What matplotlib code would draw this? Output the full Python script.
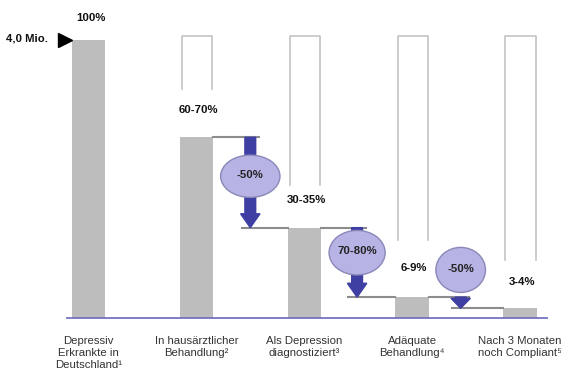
import matplotlib.pyplot as plt
from matplotlib.patches import Ellipse, FancyArrow

plt.rcParams['font.family'] = ['Liberation Sans', 'DejaVu Sans']

categories = ["Depressiv\nErkrankte in\nDeutschland¹",
              "In hausärztlicher\nBehandlung²",
              "Als Depression\ndiagnostiziert³",
              "Adäquate\nBehandlung⁴",
              "Nach 3 Monaten\nnoch Compliant⁵"]
share = [100, 65, 32.5, 7.5, 3.5]          # % of depressed patients
share_labels = ["100%", "60-70%", "30-35%", "6-9%", "3-4%"]
drop_labels = ["-50%", "70-80%", "-50%"]
total_label = "4,0 Mio."

# where each range label sits (in %) and how far down the empty frame reaches
label_y = [108, 75, 42.5, 18, 13]
frame_bottom = [None, 82.5, 48, 28, 21]
frame_top = 101.5

# drop ellipses: centre x, centre y (%), width, height
ell_x = [1.5, 2.49, 3.45]
ell_y = [51, 23.5, 17.3]
ell_w = [0.55, 0.52, 0.46]
ell_h = [15.2, 16, 16.2]

bar_w = 0.31
grey = "#bdbdbd"
line_grey = "#8c8c8c"
arrow_col = "#3f3fa3"
fs = 8.2

fig = plt.figure(figsize=(5.61, 3.70), dpi=100)
ax = fig.add_axes([0, 0, 1, 1])
ax.set_xlim(-0.82, 4.38)
ax.set_ylim(-18.7, 114.4)
ax.axis("off")

x = list(range(len(share)))
ax.bar(x, share, width=bar_w, color=grey, zorder=2)

# empty frames above the bars
for i, fb in enumerate(frame_bottom):
    if fb is None:
        continue
    l, r = i - bar_w / 2 + 0.02, i + bar_w / 2 - 0.01
    ax.plot([l, l, r, r], [fb, frame_top, frame_top, fb],
            color="#c4c4c4", lw=1.2, zorder=1)

# range labels
for i, (lab, ly) in enumerate(zip(share_labels, label_y)):
    ax.text(i + 0.02, ly, lab, ha="center", va="center",
            fontsize=fs, fontweight="bold", color="#111111")

# connectors, arrows and drop ellipses
for k in range(3):
    ax_x = ell_x[k]
    top, low = share[k + 1], share[k + 2]
    ax.plot([k + 1 + bar_w / 2, ax_x + 0.08], [top, top],
            color=line_grey, lw=1.5, zorder=3)
    ax.plot([ax_x - 0.08, k + 2 - bar_w / 2], [low, low],
            color=line_grey, lw=1.5, zorder=3)
    drop = top - low
    hl = min(5.0, drop * 0.9)
    ax.add_patch(FancyArrow(ax_x, top, 0, -drop, width=0.10,
                            head_width=0.18, head_length=hl,
                            length_includes_head=True,
                            color=arrow_col, zorder=4))
    ax.add_patch(Ellipse((ell_x[k], ell_y[k]), ell_w[k], ell_h[k],
                         facecolor="#b7b3e4", edgecolor="#8a88b8",
                         lw=1.0, zorder=5))
    ax.text(ell_x[k], ell_y[k] + 0.5, drop_labels[k], ha="center",
            va="center", fontsize=fs, fontweight="bold",
            color="#222222", zorder=6)

# baseline
ax.plot([-0.2, 4.25], [0, 0], color="#7474c4", lw=1.3, zorder=3)

# total marker
ax.plot(-0.22, 100, marker=">", color="black", markersize=10, zorder=4)
ax.text(-0.375, 100.5, total_label, ha="right", va="center",
        fontsize=fs, fontweight="bold", color="#111111")

# category labels
for i, c in enumerate(categories):
    ax.text(i, -6.3, c, ha="center", va="top", fontsize=fs,
            color="#333333", linespacing=1.25)

fig.savefig("out.png", dpi=100)
